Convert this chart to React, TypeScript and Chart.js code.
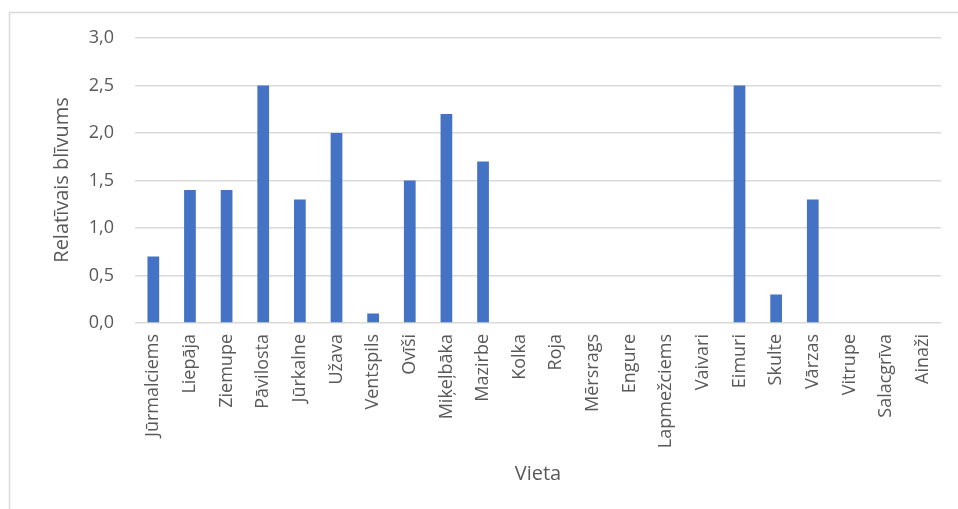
import React, { useEffect, useRef } from "react";
import { Chart, registerables } from "chart.js";

Chart.register(...registerables);

// Sampling locations along the coast
const locations: string[] = [
  "Jūrmalciems", "Liepāja", "Ziemupe", "Pāvilosta", "Jūrkalne", "Užava",
  "Ventspils", "Ovīši", "Miķeļbāka", "Mazirbe", "Kolka", "Roja",
  "Mērsrags", "Engure", "Lapmežciems", "Vaivari", "Eimuri", "Skulte",
  "Vārzas", "Vitrupe", "Salacgrīva", "Ainaži",
];

// Relative density per location
const density: number[] = [
  0.7, 1.4, 1.4, 2.5, 1.3, 2.0, 0.1, 1.5, 2.2, 1.7, 0, 0,
  0, 0, 0, 0, 2.5, 0.3, 1.3, 0, 0, 0,
];

const yTitle = "Relatīvais blīvums";
const xTitle = "Vieta";

const W = 958;
const H = 509;
const FONT = "'Open Sans', 'Noto Sans', sans-serif";
const TEXT = "#595959";

const framePlugin = {
  id: "frame",
  beforeDraw(chart: any) {
    const ctx = chart.ctx;
    ctx.save();
    ctx.fillStyle = "#ffffff";
    ctx.fillRect(0, 0, chart.width, chart.height);
    ctx.strokeStyle = "#d9d9d9";
    ctx.lineWidth = 1.5;
    ctx.strokeRect(9.5, 12.5, chart.width + 20, chart.height + 20);
    ctx.restore();
  },
  afterDraw(chart: any) {
    const ctx = chart.ctx;
    ctx.save();
    ctx.fillStyle = TEXT;
    ctx.font = `20px ${FONT}`;
    ctx.textAlign = "center";
    ctx.textBaseline = "middle";
    ctx.fillText(xTitle, 538, 474);
    ctx.translate(62, 180);
    ctx.rotate(-Math.PI / 2);
    ctx.fillText(yTitle, 0, 0);
    ctx.restore();
  },
};

export default function App() {
  const ref = useRef<HTMLCanvasElement>(null);

  useEffect(() => {
    document.body.style.margin = "0";
    const canvas = ref.current;
    if (!canvas) return;
    const chart = new Chart(canvas, {
      type: "bar",
      data: {
        labels: locations,
        datasets: [
          {
            data: density,
            backgroundColor: "#4472C4",
            barPercentage: 0.64,
            categoryPercentage: 0.5,
          },
        ],
      },
      options: {
        responsive: false,
        animation: false,
        layout: { padding: { top: 38, right: 17, left: 0, bottom: 0 } },
        plugins: {
          legend: { display: false },
          tooltip: { enabled: false },
        },
        scales: {
          x: {
            grid: { display: false, drawTicks: false },
            border: { display: false },
            ticks: {
              color: TEXT,
              font: { family: FONT, size: 18 },
              minRotation: 90,
              maxRotation: 90,
              autoSkip: false,
              padding: 11,
            },
            afterFit(axis: any) {
              axis.height = 186;
            },
          },
          y: {
            min: 0,
            max: 3,
            grid: { color: "#d9d9d9", lineWidth: 1.5, drawTicks: false },
            border: { display: false },
            ticks: {
              stepSize: 0.5,
              color: TEXT,
              font: { family: FONT, size: 18 },
              padding: 21,
              callback: (v: any) => Number(v).toFixed(1).replace(".", ","),
            },
            afterFit(axis: any) {
              axis.width = 135;
            },
          },
        },
      },
      plugins: [framePlugin],
    });
    return () => chart.destroy();
  }, []);

  return (
    <canvas
      ref={ref}
      width={W}
      height={H}
      style={{ display: "block", width: W, height: H }}
    />
  );
}
